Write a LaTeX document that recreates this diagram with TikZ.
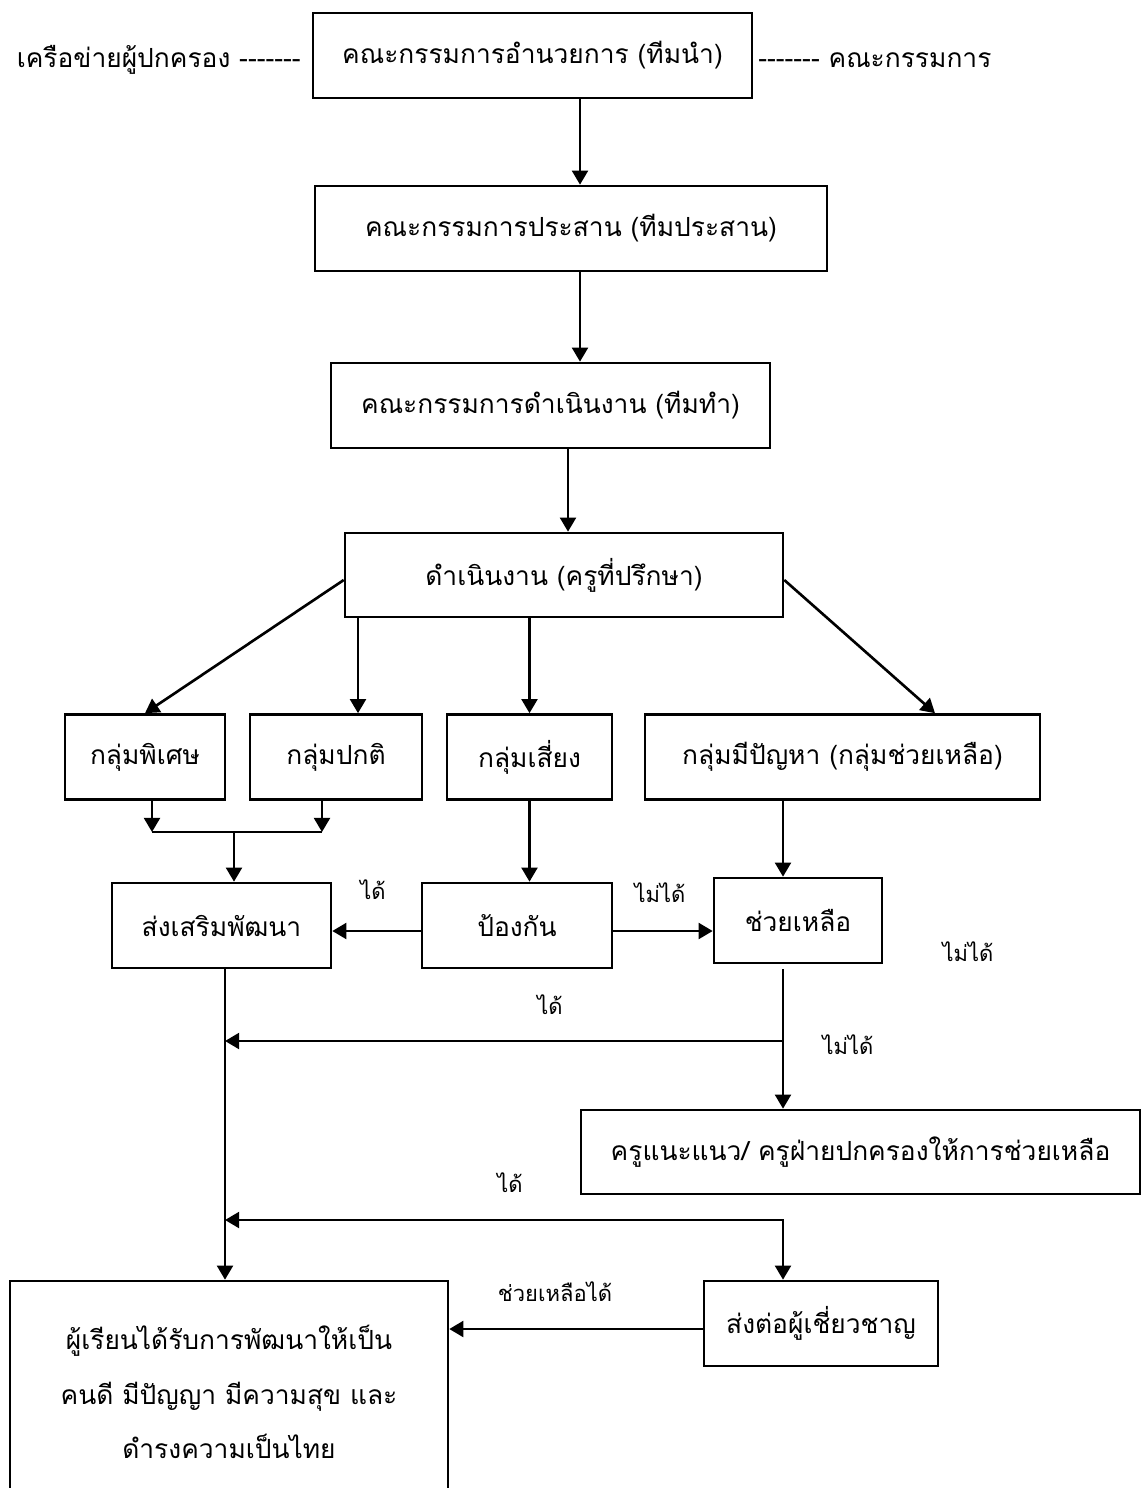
\documentclass[tikz,border=0pt]{standalone}
\usepackage{fontspec}
\newfontfamily\thaifont[Script=Thai]{Loma}
\usetikzlibrary{arrows.meta}

\tikzset{
  box/.style={draw, line width=1.5pt, minimum height=1.7cm, inner sep=0pt,
    font=\thaifont\fontsize{15}{19}\selectfont},
  side/.style={inner sep=0pt, font=\thaifont\fontsize{15}{19}\selectfont},
  lbl/.style={inner sep=0pt, font=\thaifont\fontsize{12.5}{16}\selectfont},
  arr/.style={line width=1.5pt, -{Triangle[length=8pt,width=9pt]}},
  twoarr/.style={line width=1.5pt, {Triangle[length=8pt,width=9pt]}-{Triangle[length=8pt,width=9pt]}},
  ln/.style={line width=1.5pt},
}

\begin{document}
\begin{tikzpicture}[x=0.02cm, y=-0.02cm]

  \useasboundingbox (0,0) rectangle (1142,1488);

  % committees
  \node[box, minimum width=8.78cm] (lead)  at (532.5,55.5)  {คณะกรรมการอำนวยการ (ทีมนำ)};
  \node[box, minimum width=10.24cm] (coord) at (571,228.5)  {คณะกรรมการประสาน (ทีมประสาน)};
  \node[box, minimum width=8.78cm] (ops)   at (550.5,405.5) {คณะกรรมการดำเนินงาน (ทีมทำ)};
  \node[box, minimum width=8.76cm, minimum height=1.68cm] (advisor) at (564,575) {ดำเนินงาน (ครูที่ปรึกษา)};

  \node[side, anchor=east] (parents) at (301,60) {เครือข่ายผู้ปกครอง -------};
  \node[side, anchor=west] (board)   at (758,60) {------- คณะกรรมการ};

  % student groups
  \node[box, minimum width=3.2cm]  (special) at (145,757)   {กลุ่มพิเศษ};
  \node[box, minimum width=3.44cm] (normal)  at (336,757)   {กลุ่มปกติ};
  \node[box, minimum width=3.3cm]  (risk)    at (529.5,757) {กลุ่มเสี่ยง};
  \node[box, minimum width=7.9cm]  (problem) at (842.5,757) {กลุ่มมีปัญหา (กลุ่มช่วยเหลือ)};

  \node[box, minimum width=4.38cm] (promote) at (221.5,925.5) {ส่งเสริมพัฒนา};
  \node[box, minimum width=3.8cm]  (prevent) at (517,925.5)   {ป้องกัน};
  \node[box, minimum width=3.36cm] (help)    at (798,920.5)   {ช่วยเหลือ};

  \node[box, minimum width=11.18cm, minimum height=1.68cm] (counsel) at (860.5,1152) {ครูแนะแนว/ ครูฝ่ายปกครองให้การช่วยเหลือ};
  \node[box, minimum width=4.68cm] (expert) at (821,1323.5) {ส่งต่อผู้เชี่ยวชาญ};
  \node[box, minimum width=8.76cm, minimum height=4.44cm, align=center,
        font=\thaifont\fontsize{15}{31}\selectfont] (outcome) at (229,1392)
        {ผู้เรียนได้รับการพัฒนาให้เป็น\\คนดี มีปัญญา มีความสุข และ\\ดำรงความเป็นไทย};

  % helper coordinates
  \coordinate (s1) at (580,0);
  \coordinate (s2) at (568,0);
  \coordinate (s3) at (358,0);
  \coordinate (s4) at (935,0);
  \coordinate (s5) at (783,0);
  \coordinate (s6) at (225,0);
  \coordinate (jl) at (152,832);
  \coordinate (jr) at (322,832);
  \coordinate (jm) at (234,832);
  \coordinate (p1) at (0,931);
  \coordinate (h1) at (783,1041);
  \coordinate (h2) at (783,1220);
  \coordinate (e1) at (0,1329);

  \draw[arr] (lead.south -| s1) -- (coord.north -| s1);
  \draw[arr] (coord.south -| s1) -- (ops.north -| s1);
  \draw[arr] (ops.south -| s2) -- (advisor.north -| s2);

  \draw[arr] ([yshift=-0.1cm]advisor.west) -- (special.north);
  \draw[arr] (advisor.south -| s3) -- (normal.north -| s3);
  \draw[arr] (advisor.south -| risk.north) -- (risk.north);
  \draw[arr] ([yshift=-0.1cm]advisor.east) -- (problem.north -| s4);

  \draw[arr] (special.south -| jl) -- (jl);
  \draw[arr] (normal.south -| jr) -- (jr);
  \draw[ln] (jl) -- (jr);
  \draw[arr] (jm) -- (promote.north -| jm);

  \draw[arr] (risk.south) -- (prevent.north -| risk.south);
  \draw[arr] (problem.south -| s5) -- (help.north -| s5);

  \draw[arr] (prevent.west |- p1) -- (promote.east |- p1);
  \draw[arr] (prevent.east |- p1) -- (help.west |- p1);

  \draw[arr] (promote.south -| s6) -- (outcome.north -| s6);
  \draw[arr] ([yshift=-0.1cm]help.south -| s5) -- (counsel.north -| s5);
  \draw[arr] (h1) -- (h1 -| s6);
  \draw[twoarr] (h2 -| s6) -- (h2) -- (expert.north -| h2);
  \draw[arr] (expert.west |- e1) -- (outcome.east |- e1);

  % labels
  \node[lbl] (yes1) at (373,890)  {ได้};
  \node[lbl] (no1)  at (660,893)  {ไม่ได้};
  \node[lbl] (no2)  at (968,952)  {ไม่ได้};
  \node[lbl] (yes2) at (550,1005) {ได้};
  \node[lbl] (no3)  at (848,1045) {ไม่ได้};
  \node[lbl] (yes3) at (510,1183) {ได้};
  \node[lbl] (fixed) at (555,1292) {ช่วยเหลือได้};

\end{tikzpicture}
\end{document}
